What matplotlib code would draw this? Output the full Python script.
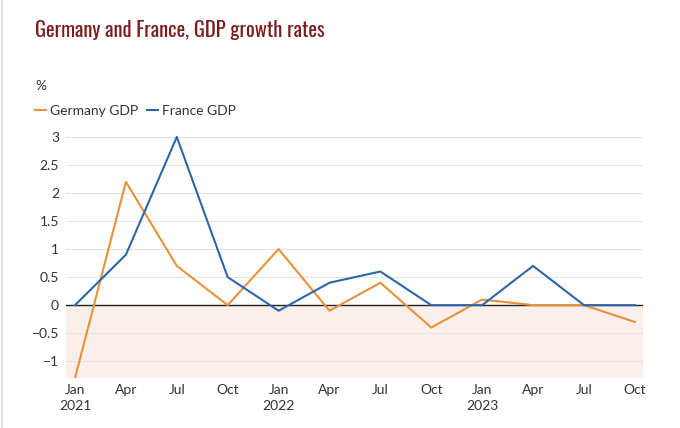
import matplotlib
matplotlib.use("Agg")
import matplotlib.pyplot as plt
from matplotlib.lines import Line2D

quarters = ["Jan\n2021", "Apr", "Jul", "Oct", "Jan\n2022", "Apr", "Jul", "Oct",
            "Jan\n2023", "Apr", "Jul", "Oct"]
germany = [-1.3, 2.2, 0.7, 0.0, 1.0, -0.1, 0.4, -0.4, 0.1, 0.0, 0.0, -0.3]
france = [0.0, 0.9, 3.0, 0.5, -0.1, 0.4, 0.6, 0.0, 0.0, 0.7, 0.0, 0.0]
yticks = [-1, -0.5, 0, 0.5, 1, 1.5, 2, 2.5, 3]
ytick_labels = ["−1", "−0.5", "0", "0.5", "1", "1.5", "2", "2.5", "3"]

plt.rcParams['font.family'] = ['Lato', 'DejaVu Sans']

fig = plt.figure(figsize=(6.8, 4.28), dpi=100)
ax = fig.add_axes([66/680, 1-378/428, (643-66)/680, (378-131.4)/428])

x = list(range(len(quarters)))
ylo, yhi = -1.3, 3.1
ax.set_ylim(ylo, yhi)
ax.set_xlim(-0.177, 11.16)
ax.axhspan(ylo, 0, color="#fbefec", zorder=0, lw=0)
for t in yticks:
    if t != 0:
        ax.axhline(t, color="#e4e4e4", lw=0.8, zorder=1)
ax.axhline(0, color="#222222", lw=1.0, zorder=2)

orange = "#e8913a"
blue = "#2d66a8"
ax.plot(x, germany, color=orange, lw=1.5, zorder=3)
ax.plot(x, france, color=blue, lw=1.5, zorder=4)

ax.set_xticks(x)
ax.set_xticklabels(quarters, fontsize=10, color="#333333", linespacing=1.4)
ax.set_yticks(yticks)
ax.set_yticklabels(ytick_labels, fontsize=10, color="#333333")
ax.tick_params(length=0, pad=5)
ax.tick_params(axis='x', pad=4)
for s in ax.spines.values():
    s.set_visible(False)

fig.text(35/680, 1-30/428, "Germany and France, GDP growth rates",
         fontsize=14.8, color="#7a1d1f", family=["Oswald", "DejaVu Sans"],
         fontweight="medium", va="center", ha="left")
fig.text(35/680, 1-86/428, "%", fontsize=10, color="#333333", va="center")

handles = [Line2D([], [], color=orange, lw=1.5), Line2D([], [], color=blue, lw=1.5)]
fig.legend(handles, ["Germany GDP", "France GDP"], loc="center left",
           bbox_to_anchor=(35/680, 1-111/428), ncol=2, frameon=False,
           fontsize=10, handlelength=0.8, handletextpad=0.3, columnspacing=0.6,
           labelcolor="#333333", borderaxespad=0, borderpad=0)

fig.add_artist(Line2D([2/680, 2/680], [0, 1], color="#dddddd", lw=1.5, transform=fig.transFigure))

fig.savefig("out.png", dpi=100, facecolor="white")
